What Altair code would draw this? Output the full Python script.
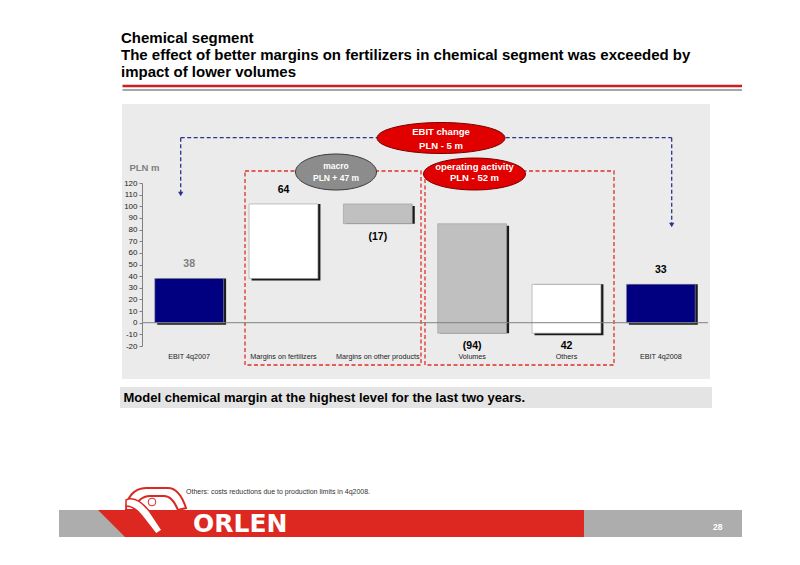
import altair as alt
import pandas as pd
import numpy as np

# ---------------- data ----------------
categories = ["EBIT 4q2007", "Margins on fertilizers", "Margins on other products",
              "Volumes", "Others", "EBIT 4q2008"]
values = [38, 64, -17, -94, 42, 33]
kinds = ["total", "up", "down", "down", "up", "total"]
labels = ["38", "64", "(17)", "(94)", "42", "33"]
label_side = ["above", "above", "below", "below", "below", "above"]
y_ticks = list(range(-20, 121, 10))

title_lines = ["Chemical segment",
               "The effect of better margins on fertilizers in chemical segment was exceeded by",
               "impact of lower volumes"]
banner_text = "Model chemical margin at the highest level for the last two years."
note_text = "Others: costs reductions due to production limits in 4q2008."
bubble_ebit = ["EBIT change", "PLN - 5 m"]
bubble_macro = ["macro", "PLN + 47 m"]
bubble_oper = ["operating activity", "PLN - 52 m"]
unit_label = "PLN m"
brand = "ORLEN"
page_no = "28"

# waterfall build
starts, ends = [], []
run = 0
for v, k in zip(values, kinds):
    if k == "total":
        s, e = 0, v
    else:
        s, e = run, run + v
    run = e
    starts.append(s)
    ends.append(e)

df = pd.DataFrame({"category": categories, "value": values, "kind": kinds,
                   "start": starts, "end": ends, "label": labels, "side": label_side})
df["anchor"] = np.where(df["side"] == "above", df[["start", "end"]].max(axis=1),
                        df[["start", "end"]].min(axis=1))

FONT = "Liberation Sans"
W, H = 566, 163
RED = "#dc2820"
NAVY = "#000080"

# ---------------- helpers for slide decorations ----------------
one = pd.DataFrame({"d": [0]})


def rect(x, x2, y, y2, **kw):
    return alt.Chart(one).mark_rect(**kw).encode(
        x=alt.value(x), x2=alt.value(x2), y=alt.value(y), y2=alt.value(y2))


def hrule(x, x2, y, **kw):
    return alt.Chart(one).mark_rule(**kw).encode(
        x=alt.value(x), x2=alt.value(x2), y=alt.value(y))


def vrule(x, y, y2, **kw):
    return alt.Chart(one).mark_rule(**kw).encode(
        x=alt.value(x), y=alt.value(y), y2=alt.value(y2))


def text(s, x, y, **kw):
    kw.setdefault("font", FONT)
    return alt.Chart(one).mark_text(text=s, **kw).encode(x=alt.value(x), y=alt.value(y))


def symbol(shape, x, y, size, **kw):
    return alt.Chart(one).mark_point(shape=shape, size=size, filled=True, opacity=1, **kw).encode(
        x=alt.value(x), y=alt.value(y))


def ellipse_path(r):
    k = 0.5523
    return (f"M-1,0C-1,{-k*r:.4f} {-k:.4f},{-r:.4f} 0,{-r:.4f}"
            f"C{k:.4f},{-r:.4f} 1,{-k*r:.4f} 1,0"
            f"C1,{k*r:.4f} {k:.4f},{r:.4f} 0,{r:.4f}"
            f"C{-k:.4f},{r:.4f} -1,{k*r:.4f} -1,0Z")


# ---------------- main chart encodings ----------------
xenc = alt.X("category:N", sort=categories,
             scale=alt.Scale(paddingInner=0.27, paddingOuter=0.135),
             axis=alt.Axis(title=None, labelAngle=0, labelFontSize=7.2, labelColor="#222",
                           labelPadding=6, ticks=False, domain=False, labelLimit=200,
                           labelFont=FONT, labelOverlap=False, zindex=1))
yscale = alt.Scale(domain=[-20, 120], nice=False, zero=False)
yaxis = alt.Axis(title=None, values=y_ticks, tickCount=len(y_ticks), labelExpr="'' + datum.value",
                 labelFontSize=8, labelColor="#222", tickSize=3, tickColor="#808080",
                 domainColor="#808080", grid=False, labelPadding=2, labelFont=FONT,
                 labelOverlap=False, labelFlush=False, labelBound=False, zindex=1)

shadow = alt.Chart(df).mark_bar(color="#1a1a1a", xOffset=2.5, yOffset=2).encode(
    x=xenc, y=alt.Y("start:Q", scale=yscale, axis=yaxis), y2="end:Q")
bars = alt.Chart(df).mark_bar(stroke="#9a9a9a", strokeWidth=0.6).encode(
    x=xenc, y=alt.Y("start:Q", scale=yscale, axis=yaxis), y2="end:Q",
    color=alt.Color("kind:N", scale=alt.Scale(domain=["total", "up", "down"],
                                              range=[NAVY, "#ffffff", "#c0c0c0"]), legend=None))
zero_line = alt.Chart(one).mark_rule(color="#808080", strokeWidth=1).encode(
    x=alt.value(0), x2=alt.value(W), y=alt.datum(0))

lab_color = alt.condition(alt.datum.category == categories[0], alt.value("#7f7f7f"), alt.value("#000000"))
lab_above = alt.Chart(df).transform_filter(alt.datum.side == "above").mark_text(
    baseline="bottom", dy=-9, fontSize=10.5, fontWeight="bold", font=FONT).encode(
    x=xenc, y=alt.Y("anchor:Q", scale=yscale, axis=yaxis), text="label:N", color=lab_color)
lab_below = alt.Chart(df).transform_filter(alt.datum.side == "below").mark_text(
    baseline="top", dy=8, fontSize=10.5, fontWeight="bold", font=FONT).encode(
    x=xenc, y=alt.Y("anchor:Q", scale=yscale, axis=yaxis), text="label:N", color=lab_color)

# ---------------- slide decorations (pixel space, plot origin at page 142,183) ----------------
panel = rect(-20, 568, -79, 196, color="#ebebeb")
banner = rect(-22, 570, 204, 225, color="#e4e4e4")
banner_t = text(banner_text, -18.5, 214.5, align="left", baseline="middle", fontSize=13,
                fontWeight="bold", color="#000")
red_line = hrule(-19.5, 600, -97, color="#cc1f1f", strokeWidth=2.5)
gray_line = hrule(-19.5, 600, -93, color="#a6a6a6", strokeWidth=2)
titles = [text(t, -21, yb, align="left", baseline="alphabetic", fontSize=15, fontWeight="bold",
               color="#000") for t, yb in zip(title_lines, [-140.5, -123.5, -106.5])]

dash_blue = dict(color="#2a3390", strokeDash=[4, 2.5], strokeWidth=1.3)
blue_h = hrule(38.7, 529.7, -45.3, **dash_blue)
blue_v1 = vrule(38.7, -45.3, 10, **dash_blue)
blue_v2 = vrule(529.7, -45.3, 41, **dash_blue)
arrow1 = symbol("triangle-down", 38.7, 11, 28, color="#2a3390")
arrow2 = symbol("triangle-down", 529.7, 42, 28, color="#2a3390")

dash_red = dict(filled=False, stroke="#e0302a", strokeDash=[4, 2.5], strokeWidth=1.3)
box1 = rect(103, 279, -12, 182, **dash_red)
box2 = rect(283, 472, -12, 182, **dash_red)

ell_ebit = symbol(ellipse_path(31 / 128), 299, -45, 128 ** 2, fill="#e00000", stroke="#7a0000", strokeWidth=1)
ell_oper = symbol(ellipse_path(32 / 102), 332.5, -9, 102 ** 2, fill="#e00000", stroke="#7a0000", strokeWidth=1)
ell_macro = symbol(ellipse_path(36 / 81), 194, -11, 81 ** 2, fill="#8c8c8c", stroke="#3a3a3a", strokeWidth=1)

btext = dict(align="center", baseline="middle", fontWeight="bold", color="#ffffff")
bub_texts = [
    text(bubble_ebit[0], 299, -51.3, fontSize=9.5, **btext),
    text(bubble_ebit[1], 299, -37.3, fontSize=9.5, **btext),
    text(bubble_oper[0], 332.5, -16.3, fontSize=9.5, **btext),
    text(bubble_oper[1], 332.5, -4.7, fontSize=9.5, **btext),
    text(bubble_macro[0], 194, -17, fontSize=8.5, **btext),
    text(bubble_macro[1], 194, -4.7, fontSize=8.5, **btext),
]
unit_t = text(unit_label, 2.5, -15.3, align="center", baseline="middle", fontSize=9.5,
              fontWeight="bold", color="#7f7f7f")

# footer
note_t = text(note_text, 44, 309, align="left", baseline="middle", fontSize=7, color="#333")
band_gray = rect(-83, 600, 327, 354, color="#adadad")
band_red = rect(-17, 442, 327, 354, color=RED)
band_tri = symbol("M-1,-1L1,-1L1,1Z", -30.5, 340.5, 27 ** 2, fill=RED, strokeWidth=0)
logo_a = ("M-0.906,0.219C-0.906,-0.156 -0.656,-0.469 -0.281,-0.469L0.406,-0.469"
          "C0.656,-0.469 0.844,-0.219 0.969,0.156L0.719,0.219"
          "C0.594,-0.094 0.469,-0.219 0.281,-0.219L-0.156,-0.219"
          "C-0.406,-0.219 -0.594,-0.031 -0.656,0.219Z")
logo_b = ("M-0.906,-0.094C-0.656,-0.219 -0.406,-0.031 -0.156,0.281L0.219,0.844"
          "L0.031,0.969L-0.406,0.406C-0.594,0.156 -0.781,0.094 -0.906,0.094Z")
logo1 = symbol(logo_a, 13, 320, 64 ** 2, fill="#ffffff", stroke=RED, strokeWidth=2)
logo2 = symbol(logo_b, 13, 320, 64 ** 2, fill="#ffffff", stroke=RED, strokeWidth=1.5)
logo3 = symbol("circle", 10, 319, 60, fill="#ffffff", stroke=RED, strokeWidth=1)
brand_t = text(brand, 51, 340.5, align="left", baseline="middle", fontSize=25, fontWeight="bold",
               font="DejaVu Sans", color="#ffffff")
page_t = text(page_no, 575.7, 344, align="center", baseline="middle", fontSize=8.5,
              fontWeight="bold", color="#ffffff")

layers = ([panel, banner, banner_t, red_line, gray_line] + titles +
          [box1, box2, blue_h, blue_v1, blue_v2, arrow1, arrow2,
           shadow, bars, zero_line, lab_above, lab_below,
           ell_ebit, ell_macro, ell_oper] + bub_texts +
          [unit_t, note_t, band_gray, band_red, band_tri, logo1, logo2, logo3, brand_t, page_t])

chart = alt.layer(*layers).properties(
    width=W, height=H,
    padding={"left": 134, "top": 175, "right": 84, "bottom": 211},
    autosize=alt.AutoSizeParams(type="none"),
    background="white",
).configure_view(strokeWidth=0).configure(font=FONT)

chart.save("out.html", embed_options={"renderer": "svg", "actions": False})
